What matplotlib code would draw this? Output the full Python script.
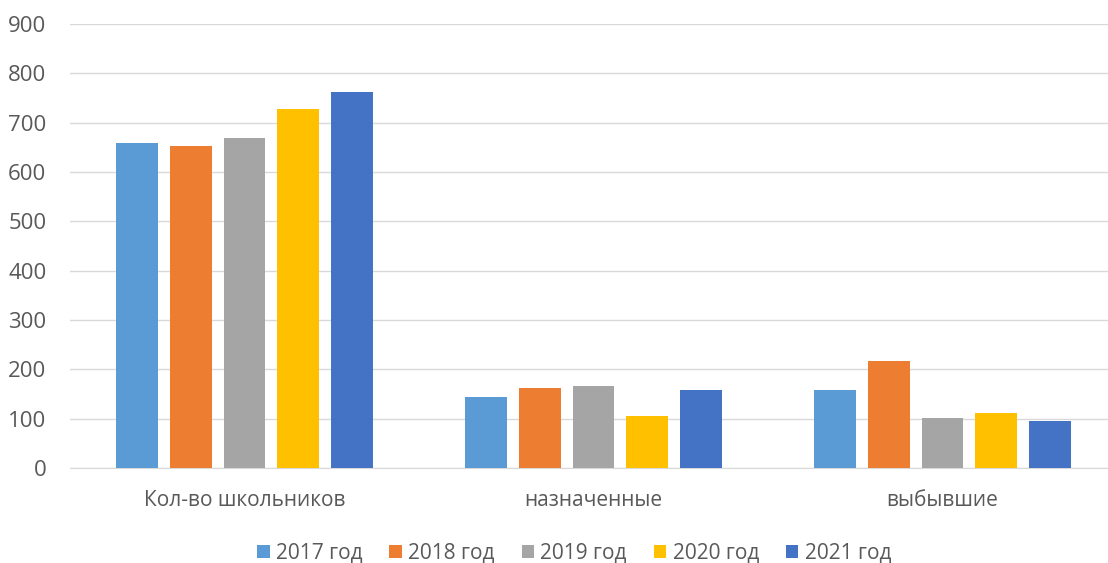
import matplotlib
matplotlib.use("Agg")
import matplotlib.pyplot as plt
import numpy as np

categories = ["Кол-во школьников", "назначенные", "выбывшие"]
series_names = ["2017 год", "2018 год", "2019 год", "2020 год", "2021 год"]
v2017 = [659, 143, 158]
v2018 = [653, 162, 217]
v2019 = [668, 167, 102]
v2020 = [727, 105, 111]
v2021 = [762, 158, 95]
values = [v2017, v2018, v2019, v2020, v2021]
colors = ["#5B9BD5", "#ED7D31", "#A5A5A5", "#FFC000", "#4472C4"]
yticks = [0, 100, 200, 300, 400, 500, 600, 700, 800, 900]

plt.rcParams['font.family'] = ['Open Sans', 'DejaVu Sans']

fig = plt.figure(figsize=(11.08, 5.63), dpi=100)
ax = fig.add_axes([70/1108, 1-468/563, (1108-70)/1108, (468-24)/563])

x = np.arange(len(categories))
step = 0.154
width = 0.12
for i, (name, vals, c) in enumerate(zip(series_names, values, colors)):
    ax.bar(x + (i - 2) * step, vals, width, color=c, label=name, zorder=3)

ax.set_xlim(-0.5, 2.5 - 9/349)
ax.set_ylim(0, 900)
ax.set_yticks(yticks)
ax.set_xticks(x)
ax.set_xticklabels(categories)
ax.grid(axis='y', color='#D9D9D9', linewidth=1, zorder=0)
for s in ['top', 'right', 'left']:
    ax.spines[s].set_visible(False)
ax.spines['bottom'].set_color('#D9D9D9')
ax.tick_params(axis='both', length=0, labelcolor='#595959')
ax.tick_params(axis='y', pad=17, labelsize=16)
ax.tick_params(axis='x', pad=16, labelsize=15)
for lbl in ax.get_yticklabels():
    lbl.set_horizontalalignment('right')

leg = fig.legend(loc='center', bbox_to_anchor=(574/1108, 1-553/563), ncol=5,
                 frameon=False, fontsize=15, handlelength=0.6, handleheight=0.6,
                 handletextpad=0.3, columnspacing=1.3)
for t in leg.get_texts():
    t.set_color('#595959')

fig.savefig("out.png", dpi=100)
